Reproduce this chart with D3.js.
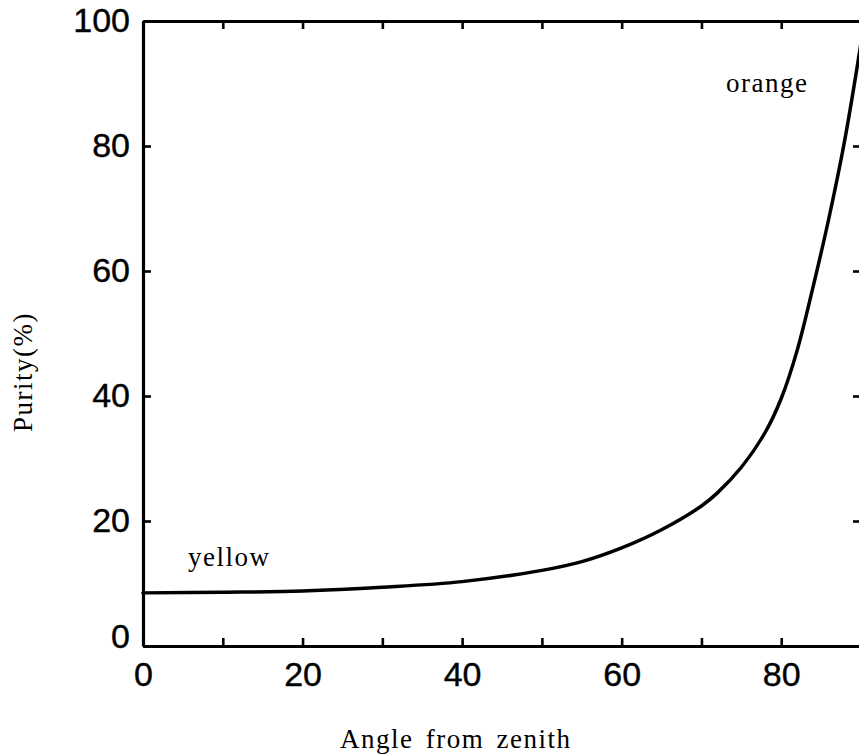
<!DOCTYPE html>
<html>
<head>
<meta charset="utf-8">
<script src="https://cdn.jsdelivr.net/npm/d3@7"></script>
<style>
  body { margin: 0; background: #fff; }
</style>
</head>
<body>
<script>
// values
let angle  = [0, 10, 20, 30, 40, 50, 55, 60, 65, 70, 72, 75, 78, 80, 82, 84, 86, 88, 90];
let purity = [8.5, 8.6, 8.8, 9.4, 10.3, 12.1, 13.5, 15.7, 18.6, 22.4, 24.5, 28.6, 34.2, 39.6, 47.3, 57.5, 68.6, 81.2, 96.5];
let xTicks = [0, 10, 20, 30, 40, 50, 60, 70, 80, 90];
let xLabels = [0, 20, 40, 60, 80];
let yTicks = [0, 20, 40, 60, 80, 100];

let width = 859, height = 756;

let svg = d3.select("body").append("svg")
    .attr("width", width)
    .attr("height", height);

let x = d3.scaleLinear().domain([0, 90]).range([143, 861]);
let y = d3.scaleLinear().domain([0, 100]).range([646, 21]);

let numFont = "'Liberation Sans', Arial, sans-serif";
let serif = "'Liberation Serif', 'Times New Roman', serif";

function styleAxis(g) {
    g.select(".domain").attr("stroke", "#000").attr("stroke-width", 3.2);
    g.selectAll(".tick line").attr("stroke", "#000").attr("stroke-width", 2.6);
    g.selectAll("text")
        .attr("font-family", numFont)
        .attr("font-size", 34)
        .attr("fill", "#000")
        .attr("stroke", "#000")
        .attr("stroke-width", 0.4);
}

// bottom
svg.append("g")
    .attr("transform", `translate(0,${y(0)})`)
    .call(d3.axisBottom(x).tickValues(xTicks).tickSize(-8).tickSizeOuter(0).tickPadding(16)
        .tickFormat(d => xLabels.includes(d) ? d : ""))
    .call(styleAxis);

// left
let left = svg.append("g")
    .attr("transform", `translate(${x(0)},0)`)
    .call(d3.axisLeft(y).tickValues(yTicks).tickSize(-8).tickSizeOuter(0).tickPadding(13))
    .call(styleAxis);
left.selectAll(".tick").filter(d => d === 0).select("text").attr("dy", "0.05em");

// top
svg.append("g")
    .attr("transform", `translate(0,${y(100)})`)
    .call(d3.axisTop(x).tickValues(xTicks).tickSize(-8).tickSizeOuter(0).tickFormat(""))
    .call(styleAxis);

// right
svg.append("g")
    .attr("transform", `translate(${x(90)},0)`)
    .call(d3.axisRight(y).tickValues(yTicks).tickSize(-8).tickSizeOuter(0).tickFormat(""))
    .call(styleAxis);

// curve
let line = d3.line()
    .x((d, i) => x(angle[i]))
    .y(d => y(d))
    .curve(d3.curveCatmullRom.alpha(0.5));

svg.append("path")
    .datum(purity)
    .attr("d", line)
    .attr("fill", "none")
    .attr("stroke", "#000")
    .attr("stroke-width", 3.5)
    .attr("stroke-linecap", "round");

// labels
function serifText(t, px, py) {
    return svg.append("text")
        .attr("x", px).attr("y", py)
        .attr("font-family", serif)
        .attr("font-size", 27)
        .attr("letter-spacing", 1.5)
        .attr("fill", "#000")
        .text(t);
}

serifText("yellow", 188, 566);
serifText("orange", 726, 92);

serifText("Angle  from  zenith", 340, 748).attr("word-spacing", 4);

serifText("Purity(%)", 0, 0)
    .attr("text-anchor", "middle")
    .attr("transform", "translate(32,372) rotate(-90)");
</script>
</body>
</html>
